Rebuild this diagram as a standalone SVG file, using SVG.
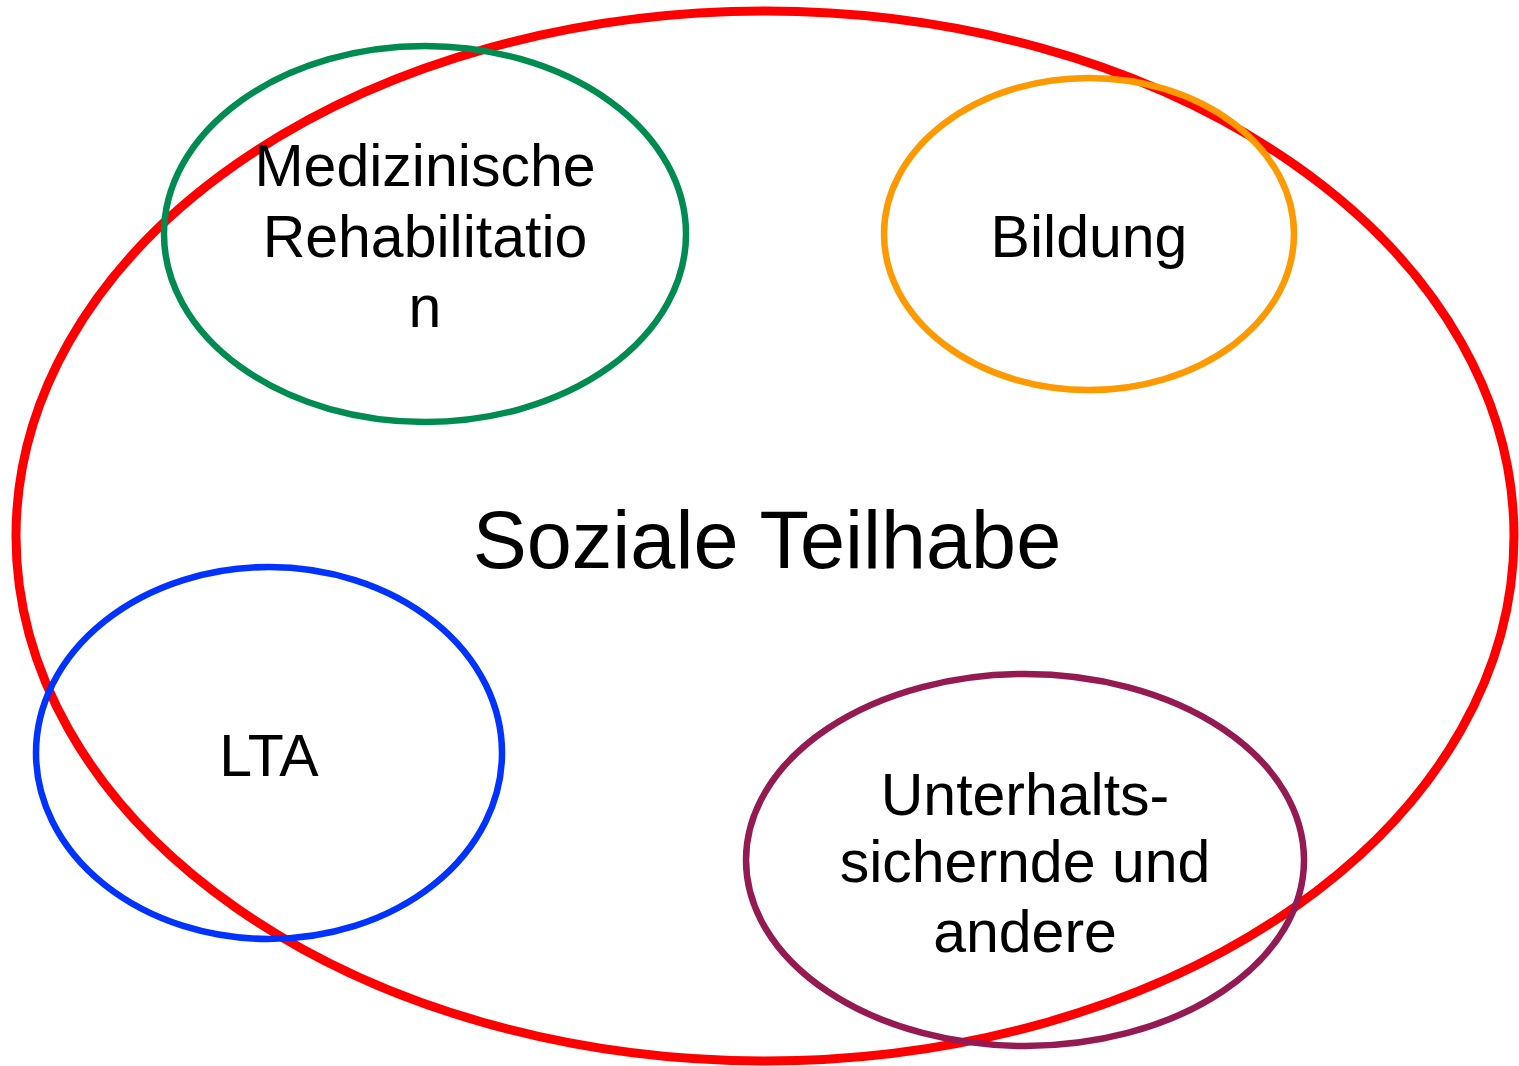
<svg xmlns="http://www.w3.org/2000/svg" width="1519" height="1066" viewBox="0 0 1519 1066">
<style>
ellipse{fill:none}
text{font-family:"Liberation Sans",Arial,sans-serif;fill:#000;text-anchor:middle}
.n{font-size:59px}
.big{font-size:81px}
</style>
<rect width="1519" height="1066" fill="#fff"/>
<g id="soziale-teilhabe">
<ellipse cx="765" cy="536" rx="749" ry="525" stroke="#ff0000" stroke-width="9"/>
<text class="big" x="767" y="568">Soziale Teilhabe</text>
</g>
<g id="medizinische-rehabilitation">
<ellipse cx="425" cy="234" rx="261" ry="188" stroke="#008c50" stroke-width="6.5"/>
<text class="n" x="425" y="186">Medizinische</text>
<text class="n" x="425" y="257">Rehabilitatio</text>
<text class="n" x="425" y="327">n</text>
</g>
<g id="bildung">
<ellipse cx="1089" cy="234" rx="205" ry="156" stroke="#ff9900" stroke-width="6.5"/>
<text class="n" x="1089" y="257">Bildung</text>
</g>
<g id="lta">
<ellipse cx="269" cy="753" rx="233" ry="186" stroke="#0033ff" stroke-width="6.5"/>
<text class="n" x="269" y="776">LTA</text>
</g>
<g id="unterhaltssichernde">
<ellipse cx="1025" cy="860" rx="279" ry="186" stroke="#951a52" stroke-width="6.5"/>
<text class="n" x="1025" y="815">Unterhalts-</text>
<text class="n" x="1025" y="882">sichernde und</text>
<text class="n" x="1025" y="952">andere</text>
</g>
<g id="connectors"></g>
</svg>
